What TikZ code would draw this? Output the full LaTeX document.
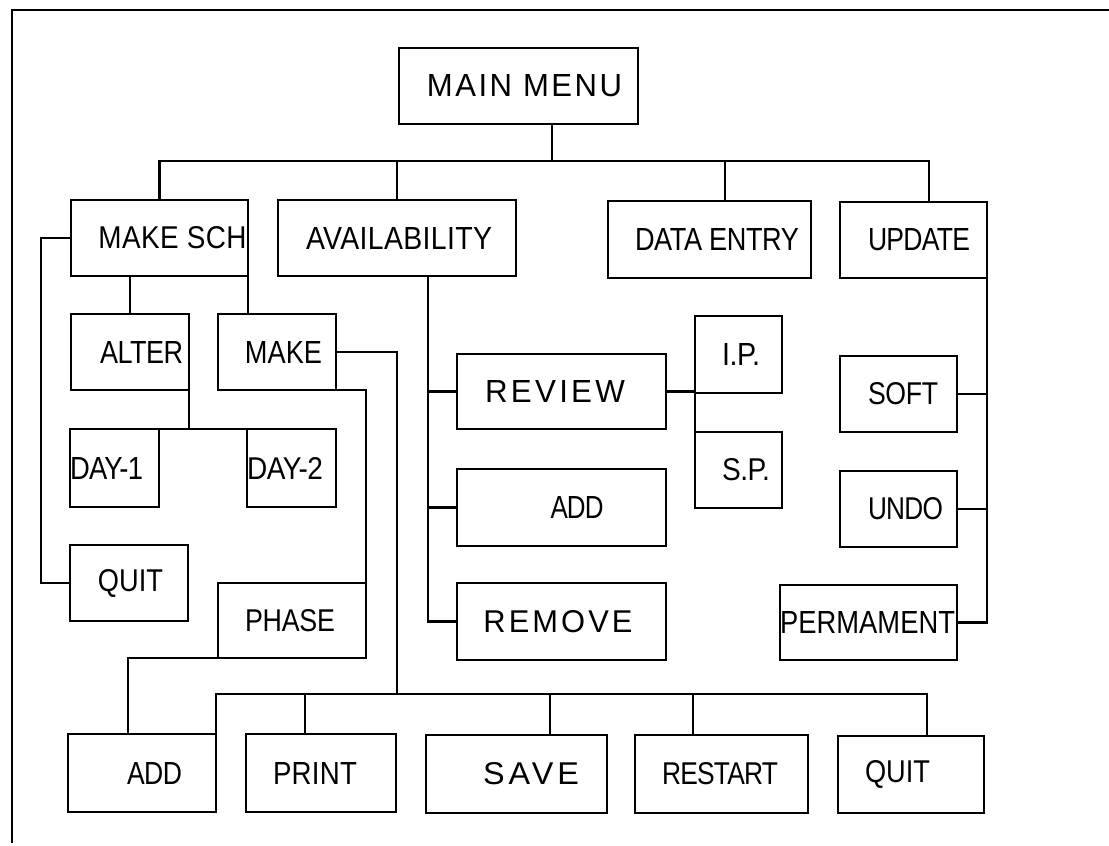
\documentclass[tikz,border=0pt]{standalone}
\usepackage{fontspec}
\setmainfont{Liberation Sans}[FakeStretch=0.85]
\usepackage{graphicx}

% text of a box: width, offset from the centre, letter spacing, words
\newcommand{\lbl}[4]{\hspace*{#2pt}\hspace*{#2pt}%
  \resizebox{#1pt}{22pt}{\addfontfeature{LetterSpace=#3}#4}}

\begin{document}
\begin{tikzpicture}[
  x=1pt, y=-1pt,
  box/.style={draw, line width=2.6pt, inner sep=0pt, outer sep=0pt,
    anchor=north west, font=\fontsize{32}{36}\selectfont},
  link/.style={line width=2.4pt},
  pageline/.style={line width=2pt}
]
\useasboundingbox (0,0) rectangle (1109,846);

% page edge
\coordinate (tr) at (1109,10);
\coordinate (tl) at (12,10);
\coordinate (bl) at (12,843);
\draw[pageline] (tr) -- (tl) -- (bl);

% top level
\node[box, minimum width=239pt, minimum height=76pt] (main) at (399,48) {\lbl{195}{6}{6.7}{MAIN MENU}};
\node[box, minimum width=177pt, minimum height=76pt] (ms) at (71,200) {\lbl{148}{13}{1.2}{MAKE SCH}};
\node[box, minimum width=238pt, minimum height=76pt] (avail) at (278,200) {\lbl{186}{2}{1.0}{AVAILABILITY}};
\node[box, minimum width=203pt, minimum height=77pt] (data) at (608,201) {\lbl{164}{7.5}{-1.3}{DATA ENTRY}};
\node[box, minimum width=147pt, minimum height=76pt] (upd) at (840,202) {\lbl{102}{5.5}{-2.3}{UPDATE}};

% make schedule branch
\node[box, minimum width=118pt, minimum height=76pt] (alter) at (71,314) {\lbl{83}{11.5}{-1.6}{ALTER}};
\node[box, minimum width=118pt, minimum height=76pt] (make) at (218,314) {\lbl{77}{6.5}{0}{MAKE}};
\node[box, minimum width=89pt, minimum height=78pt] (day1) at (70,429) {\lbl{73}{-8}{-2.4}{DAY-1}};
\node[box, minimum width=89pt, minimum height=78pt] (day2) at (247,429) {\lbl{76}{-6.5}{-1.4}{DAY-2}};
\node[box, minimum width=118pt, minimum height=76pt] (quitA) at (70,545) {\lbl{65}{1.5}{0}{QUIT}};
\node[box, minimum width=148pt, minimum height=75pt] (phase) at (218,583) {\lbl{90}{-2}{-0.7}{PHASE}};

% bottom row
\node[box, minimum width=148pt, minimum height=78pt] (addB) at (68,734) {\lbl{55}{12.5}{-1.6}{ADD}};
\node[box, minimum width=150pt, minimum height=78pt] (print) at (246,734) {\lbl{84}{-6}{0.8}{PRINT}};
\node[box, minimum width=181pt, minimum height=78pt] (save) at (426,735) {\lbl{96}{14.5}{10.6}{SAVE}};
\node[box, minimum width=173pt, minimum height=78pt] (restart) at (635,735) {\lbl{116}{-1.5}{-2.5}{RESTART}};
\node[box, minimum width=146pt, minimum height=77pt] (quitB) at (838,736) {\lbl{65}{-13.5}{0}{QUIT}};

% availability branch
\node[box, minimum width=209pt, minimum height=75pt] (review) at (457,354) {\lbl{140}{-6.5}{8.9}{REVIEW}};
\node[box, minimum width=209pt, minimum height=77pt] (addM) at (457,469) {\lbl{53}{15.5}{-3.0}{ADD}};
\node[box, minimum width=209pt, minimum height=77pt] (remove) at (457,583) {\lbl{149}{-3.5}{8.4}{REMOVE}};
\node[box, minimum width=87pt, minimum height=77pt] (ip) at (695,316) {\lbl{38}{2.5}{-1.3}{I.P.}};
\node[box, minimum width=87pt, minimum height=76pt] (sp) at (695,432) {\lbl{48}{7.5}{-1.5}{S.P.}};

% update branch
\node[box, minimum width=117pt, minimum height=76pt] (soft) at (840,356) {\lbl{70}{4.5}{-1.1}{SOFT}};
\node[box, minimum width=117pt, minimum height=76pt] (undo) at (840,471) {\lbl{75}{7}{-2.3}{UNDO}};
\node[box, minimum width=177pt, minimum height=75pt] (perm) at (780,585) {\lbl{175}{-1}{0.2}{PERMAMENT}};

% junctions
\coordinate (j0) at (552,161);
\coordinate (jd) at (725,161);
\coordinate (ju) at (929,161);
\coordinate (jq) at (41,238);
\coordinate (jb) at (397,694);
\coordinate (jp) at (305,694);
\coordinate (js) at (550,694);
\coordinate (jt) at (693,694);
\coordinate (jr) at (927,694);
\coordinate (ja) at (128,658);
\coordinate (jv) at (428,276);

% top bus
\draw[link] (main.south -| j0) -- (j0);
\draw[link] (ms.north) |- (ju) -- (ju |- upd.north);
\draw[link] (avail.north) -- (avail.north |- j0);
\draw[link] (jd) -- (jd |- data.north);

% make schedule
\draw[link] (ms.west) -| (jq |- quitA.west) -- (quitA.west);
\draw[link] (alter.north) -- (alter.north |- ms.south);
\draw[link] (ms.south east) -- (ms.south east |- make.north);
\draw[link] (alter.south east) -- (alter.south east |- day1.north);
\draw[link] (day1.north east) -- (day2.north west);
\draw[link] (make.south east) -| (phase.north east);
\draw[link] (phase.south west) -- (ja) -- (ja |- addB.north);

% bottom bus
\draw[link] (make.east) -| (jb);
\draw[link] (addB.north east) |- (jr) -- (jr |- quitB.north);
\draw[link] (jp) -- (jp |- print.north);
\draw[link] (js) -- (js |- save.north);
\draw[link] (jt) -- (jt |- restart.north);

% availability
\draw[link] (jv) |- (remove.west);
\draw[link] (jv |- review.west) -- (review.west);
\draw[link] (jv |- addM.west) -- (addM.west);
\draw[link] (review.east) -- (review.east -| ip.west);
\draw[link] (ip.south west) -- (sp.north west);

% update
\draw[link] (upd.south east) |- (perm.east);
\draw[link] (soft.east) -- (soft.east -| upd.east);
\draw[link] (undo.east) -- (undo.east -| upd.east);
\end{tikzpicture}
\end{document}
